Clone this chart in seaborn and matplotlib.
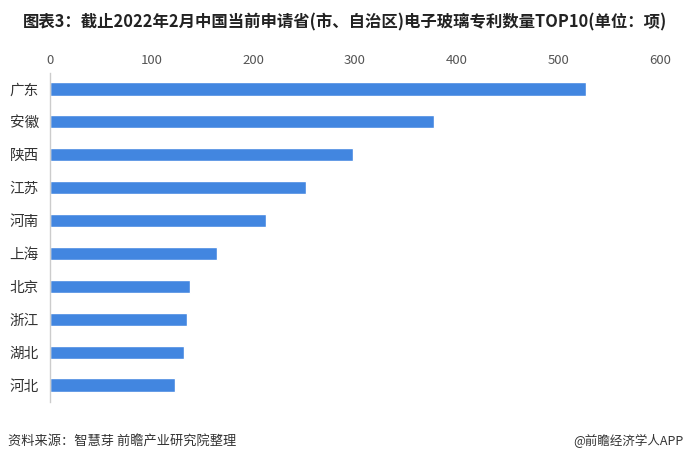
import matplotlib
matplotlib.use("Agg")
import matplotlib.pyplot as plt
import seaborn as sns
import pandas as pd

provinces = ["广东", "安徽", "陕西", "江苏", "河南", "上海", "北京", "浙江", "湖北", "河北"]
patents = [527, 378, 298, 252, 212, 164, 138, 135, 132, 123]
x_ticks = [0, 100, 200, 300, 400, 500, 600]

sns.set_style("white")
plt.rcParams["font.family"] = ["Noto Sans CJK SC", "DejaVu Sans"]

df = pd.DataFrame({"province": provinces, "count": patents})

fig = plt.figure(figsize=(6.89, 4.63), dpi=100)
ax = fig.add_axes([50 / 689, 1 - 401.5 / 463, 610 / 689, 329 / 463])
sns.barplot(data=df, y="province", x="count", color="#4286E0", width=0.4,
            saturation=1, ax=ax, orient="h")

ax.set_xlim(0, 600)
ax.set_ylim(9.5, -0.5)
ax.set_xticks(x_ticks)
ax.xaxis.tick_top()
ax.tick_params(axis="x", length=0, pad=4, labelsize=9.5, labelcolor="#555555")
ax.tick_params(axis="y", length=0, pad=8, labelsize=10.5, labelcolor="#333333")
ax.set_xlabel("")
ax.set_ylabel("")
for s in ["top", "right", "bottom"]:
    ax.spines[s].set_visible(False)
ax.spines["left"].set_color("#cccccc")
ax.spines["left"].set_linewidth(1)

fig.text(0.5, 1 - 22 / 463,
         "图表3：截止2022年2月中国当前申请省(市、自治区)电子玻璃专利数量TOP10(单位：项)",
         ha="center", va="center", fontsize=11.8, fontweight="bold", color="#222222")
fig.text(8 / 689, 1 - 441 / 463, "资料来源：智慧芽 前瞻产业研究院整理",
         ha="left", va="center", fontsize=9.5, color="#333333")
fig.text(684 / 689, 1 - 441 / 463, "@前瞻经济学人APP",
         ha="right", va="center", fontsize=9, color="#333333")

fig.savefig("out.png", dpi=100)
plt.close(fig)
